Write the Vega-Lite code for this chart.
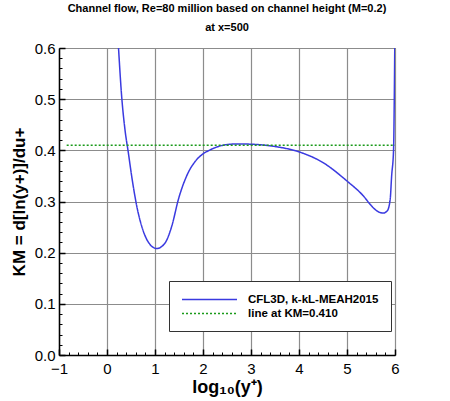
{
  "$schema": "https://vega.github.io/schema/vega-lite/v6.json",
  "autosize": "none",
  "width": 336,
  "height": 307,
  "padding": {"left": 59, "top": 48, "right": 55, "bottom": 46},
  "config": {
    "background": "white",
    "font": "Liberation Sans",
    "view": {"stroke": "#333333", "strokeWidth": 1},
    "axis": {"labelFont": "Liberation Sans", "titleFont": "Liberation Sans", "labelColor": "black", "titleColor": "black"}
  },
  "title": {
    "text": "Channel flow, Re=80 million based on channel height (M=0.2)",
    "subtitle": "at x=500",
    "font": "Liberation Sans",
    "fontSize": 11,
    "fontWeight": "bold",
    "subtitleFont": "Liberation Sans",
    "subtitleFontSize": 11,
    "subtitleFontWeight": "bold",
    "subtitleColor": "black",
    "subtitlePadding": 8,
    "anchor": "middle",
    "offset": 8,
    "color": "black"
  },
  "data": {
    "values": [
      {"series": "CFL3D, k-kL-MEAH2015", "logy": 0.24, "km": 0.6},
      {"series": "CFL3D, k-kL-MEAH2015", "logy": 0.305, "km": 0.506},
      {"series": "CFL3D, k-kL-MEAH2015", "logy": 0.375, "km": 0.44},
      {"series": "CFL3D, k-kL-MEAH2015", "logy": 0.445, "km": 0.395},
      {"series": "CFL3D, k-kL-MEAH2015", "logy": 0.515, "km": 0.349},
      {"series": "CFL3D, k-kL-MEAH2015", "logy": 0.62, "km": 0.291},
      {"series": "CFL3D, k-kL-MEAH2015", "logy": 0.757, "km": 0.242},
      {"series": "CFL3D, k-kL-MEAH2015", "logy": 0.896, "km": 0.216},
      {"series": "CFL3D, k-kL-MEAH2015", "logy": 1.035, "km": 0.208},
      {"series": "CFL3D, k-kL-MEAH2015", "logy": 1.21, "km": 0.219},
      {"series": "CFL3D, k-kL-MEAH2015", "logy": 1.35, "km": 0.252},
      {"series": "CFL3D, k-kL-MEAH2015", "logy": 1.49, "km": 0.305},
      {"series": "CFL3D, k-kL-MEAH2015", "logy": 1.66, "km": 0.35},
      {"series": "CFL3D, k-kL-MEAH2015", "logy": 1.87, "km": 0.382},
      {"series": "CFL3D, k-kL-MEAH2015", "logy": 2.0, "km": 0.393},
      {"series": "CFL3D, k-kL-MEAH2015", "logy": 2.13, "km": 0.4},
      {"series": "CFL3D, k-kL-MEAH2015", "logy": 2.42, "km": 0.41},
      {"series": "CFL3D, k-kL-MEAH2015", "logy": 2.7, "km": 0.4125},
      {"series": "CFL3D, k-kL-MEAH2015", "logy": 3.0, "km": 0.412},
      {"series": "CFL3D, k-kL-MEAH2015", "logy": 3.46, "km": 0.408},
      {"series": "CFL3D, k-kL-MEAH2015", "logy": 4.0, "km": 0.397},
      {"series": "CFL3D, k-kL-MEAH2015", "logy": 4.5, "km": 0.376},
      {"series": "CFL3D, k-kL-MEAH2015", "logy": 5.0, "km": 0.34},
      {"series": "CFL3D, k-kL-MEAH2015", "logy": 5.34, "km": 0.311},
      {"series": "CFL3D, k-kL-MEAH2015", "logy": 5.51, "km": 0.2915},
      {"series": "CFL3D, k-kL-MEAH2015", "logy": 5.65, "km": 0.28},
      {"series": "CFL3D, k-kL-MEAH2015", "logy": 5.76, "km": 0.2775},
      {"series": "CFL3D, k-kL-MEAH2015", "logy": 5.84, "km": 0.282},
      {"series": "CFL3D, k-kL-MEAH2015", "logy": 5.9, "km": 0.3045},
      {"series": "CFL3D, k-kL-MEAH2015", "logy": 5.93, "km": 0.35},
      {"series": "CFL3D, k-kL-MEAH2015", "logy": 5.97, "km": 0.401},
      {"series": "CFL3D, k-kL-MEAH2015", "logy": 5.985, "km": 0.5},
      {"series": "CFL3D, k-kL-MEAH2015", "logy": 5.995, "km": 0.6},
      {"series": "line at KM=0.410", "logy": -0.84, "km": 0.41},
      {"series": "line at KM=0.410", "logy": 6.0, "km": 0.41}
    ]
  },
  "layer": [
    {
      "mark": {"type": "line", "interpolate": "monotone", "strokeWidth": 1.5, "clip": true},
      "encoding": {
        "x": {
          "field": "logy", "type": "quantitative",
          "scale": {"domain": [-1, 6], "nice": false, "zero": false},
          "axis": {
            "title": "log₁₀(y⁺)",
            "titleFontSize": 18, "titleFontWeight": "bold", "titlePadding": 2,
            "values": [-1, 0, 1, 2, 3, 4, 5, 6],
            "labelFontSize": 15, "labelPadding": 12, "labelFlush": false,
            "tickSize": -6, "tickColor": "black", "tickWidth": 1.5,
            "domainColor": "black", "domainWidth": 1.5,
            "grid": true, "gridColor": "#8c8c8c", "gridWidth": 1.2, "gridOpacity": 1
          }
        },
        "y": {
          "field": "km", "type": "quantitative",
          "scale": {"domain": [0, 0.6], "nice": false},
          "axis": {
            "title": "KM = d[ln(y+)]/du+",
            "titleFontSize": 17, "titleFontWeight": "bold", "titlePadding": 6,
            "values": [0, 0.1, 0.2, 0.3, 0.4, 0.5, 0.6],
            "labelFontSize": 15, "labelPadding": 10, "labelFlush": false,
            "tickSize": -6, "tickColor": "black", "tickWidth": 1.5,
            "domainColor": "black", "domainWidth": 1.5,
            "grid": true, "gridColor": "#8c8c8c", "gridWidth": 1.2, "gridOpacity": 1
          }
        },
        "color": {
          "field": "series", "type": "nominal",
          "scale": {"domain": ["CFL3D, k-kL-MEAH2015", "line at KM=0.410"], "range": ["#3a3ae0", "#1a9a1a"]},
          "legend": {
            "title": null, "orient": "none", "legendX": 110, "legendY": 233,
            "fillColor": "white", "strokeColor": "#333333", "padding": 12,
            "symbolType": "M-1,0H9", "symbolSize": 121, "symbolStrokeWidth": 1.5,
            "labelFont": "Liberation Sans", "labelFontSize": 11.5, "labelFontWeight": "bold",
            "labelColor": "black", "labelOffset": 54, "rowPadding": 2
          }
        },
        "strokeDash": {
          "field": "series", "type": "nominal",
          "scale": {"domain": ["CFL3D, k-kL-MEAH2015", "line at KM=0.410"], "range": [[1, 0], [2, 2]]},
          "legend": null
        }
      }
    },
    {
      "mark": {"type": "point", "opacity": 0},
      "encoding": {
        "x": {
          "field": "logy", "type": "quantitative",
          "scale": {"domain": [-1, 6], "nice": false, "zero": false},
          "axis": {
            "orient": "bottom", "title": null, "labels": false, "domain": false, "grid": false,
            "values": [-0.8, -0.6, -0.4, -0.2, 0.2, 0.4, 0.6, 0.8, 1.2, 1.4, 1.6, 1.8, 2.2, 2.4, 2.6, 2.8, 3.2, 3.4, 3.6, 3.8, 4.2, 4.4, 4.6, 4.8, 5.2, 5.4, 5.6, 5.8],
            "tickSize": -3, "tickColor": "black", "tickWidth": 1
          }
        },
        "y": {
          "field": "km", "type": "quantitative",
          "scale": {"domain": [0, 0.6], "nice": false},
          "axis": {
            "orient": "left", "title": null, "labels": false, "domain": false, "grid": false,
            "values": [0.02, 0.04, 0.06, 0.08, 0.12, 0.14, 0.16, 0.18, 0.22, 0.24, 0.26, 0.28, 0.32, 0.34, 0.36, 0.38, 0.42, 0.44, 0.46, 0.48, 0.52, 0.54, 0.56, 0.58],
            "tickSize": -3, "tickColor": "black", "tickWidth": 1
          }
        }
      }
    }
  ],
  "resolve": {"axis": {"x": "independent", "y": "independent"}}
}
